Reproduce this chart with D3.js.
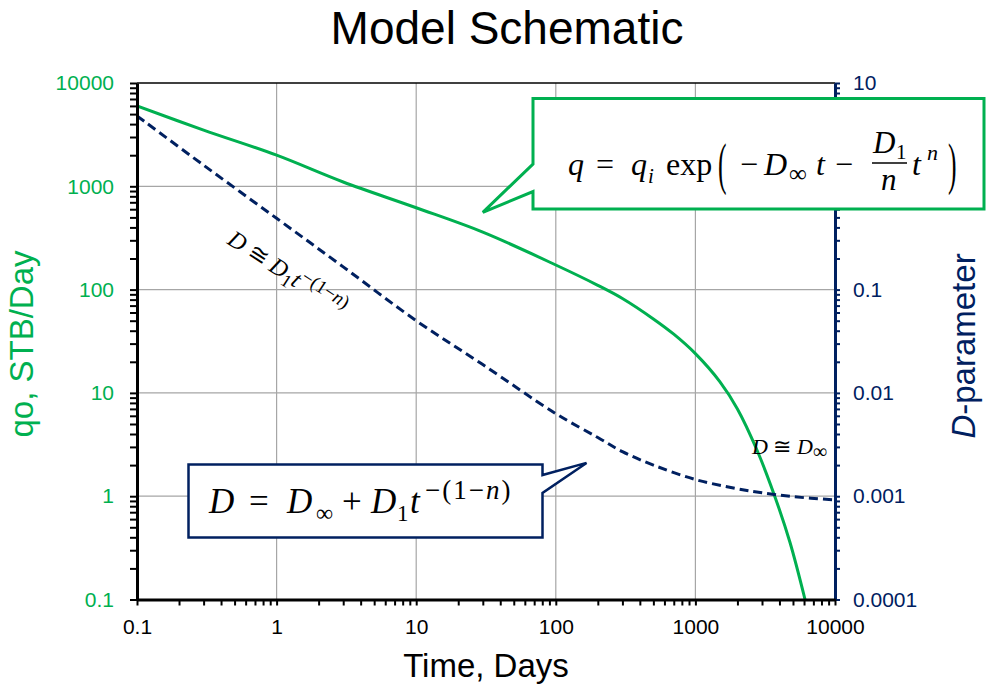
<!DOCTYPE html>
<html>
<head>
<meta charset="utf-8">
<script src="https://cdn.jsdelivr.net/npm/d3@7"></script>
<style>
  body { margin: 0; background: #fff; }
  svg { display: block; }
</style>
</head>
<body>
<script>
// values
var days  = [0.1, 0.3, 1, 3, 10, 30, 100, 200, 300, 500, 700, 1000, 1500, 2000, 2750, 3700, 4750, 6100];
var rate  = [6000, 3500, 2000, 1100, 620, 360, 173, 110, 82, 52, 37, 24, 12.8, 7.0, 2.83, 1.0, 0.36, 0.1];
var dDays = [0.1, 0.3, 1, 3, 10, 30, 100, 200, 300, 500, 1000, 2000, 3000, 5000, 10000];
var dPar  = [4.8, 1.6, 0.49, 0.166, 0.05, 0.0188, 0.0063, 0.0037, 0.0027, 0.002, 0.00145, 0.00118, 0.00108, 0.00099, 0.00092];
var xTickLabels  = ["0.1", "1", "10", "100", "1000", "10000"];
var yLeftLabels  = ["0.1", "1", "10", "100", "1000", "10000"];
var yRightLabels = ["0.0001", "0.001", "0.01", "0.1", "1", "10"];

var green = "#00B050", navy = "#002060";
var W = 993, H = 687;
var box = {left: 137, right: 835, top: 83, bottom: 599.5};

var svg = d3.select("body").append("svg")
    .attr("width", W).attr("height", H);

var x = d3.scaleLog().domain([0.1, 10000]).range([box.left, box.right]);
var yL = d3.scaleLog().domain([0.1, 10000]).range([box.bottom, box.top]);
var yR = d3.scaleLog().domain([0.0001, 10]).range([box.bottom, box.top]);

// all 1..9 x 10^k positions between lo and hi
function logTicks(lo, hi) {
    var out = [];
    for (var e = Math.round(Math.log10(lo)); e < Math.round(Math.log10(hi)); e++)
        for (var m = 1; m < 10; m++) out.push(+(m * Math.pow(10, e)).toPrecision(3));
    out.push(hi);
    return out;
}
function labelOf(list) {
    return function(d) {
        var i = list.indexOf(String(+d.toPrecision(3)));
        return i >= 0 ? list[i] : "";
    };
}

// grid
svg.append("g").selectAll("line").data(xTickLabels.map(Number).slice(1, -1))
    .enter().append("line")
    .attr("x1", function(d) { return x(d); }).attr("x2", function(d) { return x(d); })
    .attr("y1", box.top).attr("y2", box.bottom)
    .attr("stroke", "#A6A6A6").attr("stroke-width", 1.2);
svg.append("g").selectAll("line").data(yLeftLabels.map(Number).slice(1, -1))
    .enter().append("line")
    .attr("x1", box.left).attr("x2", box.right)
    .attr("y1", function(d) { return yL(d); }).attr("y2", function(d) { return yL(d); })
    .attr("stroke", "#A6A6A6").attr("stroke-width", 1.2);

// top border
svg.append("line")
    .attr("x1", box.left).attr("x2", box.right).attr("y1", box.top).attr("y2", box.top)
    .attr("stroke", "#000").attr("stroke-width", 1.5);

// curves
svg.append("clipPath").attr("id", "plot").append("rect")
    .attr("x", box.left).attr("y", box.top - 2)
    .attr("width", box.right - box.left).attr("height", box.bottom - box.top + 2);

var rateLine = d3.line()
    .x(function(d, i) { return x(days[i]); })
    .y(function(d) { return yL(d); })
    .curve(d3.curveCatmullRom.alpha(0.5));
svg.append("path").datum(rate)
    .attr("clip-path", "url(#plot)")
    .attr("d", rateLine)
    .attr("fill", "none").attr("stroke", green).attr("stroke-width", 3);

var dLine = d3.line()
    .x(function(d, i) { return x(dDays[i]); })
    .y(function(d) { return yR(d); })
    .curve(d3.curveCatmullRom.alpha(0.5));
svg.append("path").datum(dPar)
    .attr("d", dLine)
    .attr("fill", "none").attr("stroke", navy).attr("stroke-width", 3)
    .attr("stroke-dasharray", "9,5");

// axes
var font = "'Liberation Sans', Arial, sans-serif";

var gL = svg.append("g").attr("transform", "translate(" + box.left + ",0)")
    .call(d3.axisLeft(yL).tickValues(logTicks(0.1, 10000)).tickFormat(labelOf(yLeftLabels))
        .tickSize(7).tickSizeOuter(0).tickPadding(16));
gL.select(".domain").attr("stroke", "#000").attr("stroke-width", 3);
gL.selectAll(".tick line").attr("stroke", "#000").attr("stroke-width", 2);
gL.selectAll("text").attr("fill", green).style("font-family", font).style("font-size", "21px");

var gR = svg.append("g").attr("transform", "translate(" + box.right + ",0)")
    .call(d3.axisRight(yR).tickValues(logTicks(0.0001, 10)).tickFormat(labelOf(yRightLabels))
        .tickSize(5).tickSizeOuter(0).tickPadding(13));
gR.select(".domain").attr("stroke", navy).attr("stroke-width", 3);
gR.selectAll(".tick line").attr("stroke", navy).attr("stroke-width", 2);
gR.selectAll("text").attr("fill", navy).style("font-family", font).style("font-size", "21px");

var gB = svg.append("g").attr("transform", "translate(0," + box.bottom + ")")
    .call(d3.axisBottom(x).tickValues(logTicks(0.1, 10000)).tickFormat(labelOf(xTickLabels))
        .tickSize(6).tickSizeOuter(0).tickPadding(14));
gB.select(".domain").attr("stroke", "#000").attr("stroke-width", 3);
gB.selectAll(".tick line").attr("stroke", "#000").attr("stroke-width", 2);
gB.selectAll("text").attr("fill", "#000").style("font-family", font).style("font-size", "21px");

// titles
svg.append("text").attr("x", 507).attr("y", 44).attr("text-anchor", "middle")
    .style("font-family", font).style("font-size", "46px").text("Model Schematic");
svg.append("text").attr("x", (box.left + box.right) / 2).attr("y", 677).attr("text-anchor", "middle")
    .style("font-family", font).style("font-size", "33px").text("Time, Days");
svg.append("text").attr("transform", "translate(33,344) rotate(-90)").attr("text-anchor", "middle")
    .attr("fill", green).style("font-family", font).style("font-size", "33px").text("qo, STB/Day");
var rt = svg.append("text").attr("transform", "translate(975,346) rotate(-90)").attr("text-anchor", "middle")
    .attr("fill", navy).style("font-family", font).style("font-size", "33px");
rt.append("tspan").style("font-style", "italic").text("D");
rt.append("tspan").text("-parameter");

// callouts
var serif = "'Liberation Serif', 'DejaVu Serif', serif";
function piece(g, p) {
    g.append("text").attr("transform", "translate(" + p[1] + "," + p[2] + ")" + (p[5] ? " scale(0.8," + p[5] + ")" : ""))
        .style("font-family", serif).style("font-size", p[3] + "px")
        .style("font-style", p[4] ? "italic" : "normal")
        .text(p[0]);
}

// green callout: tip points at the rate curve near t = 30
var gtx = x(30), gty = yL(560);
svg.append("path")
    .attr("d", "M533,98.5 L984,98.5 L984,209 L533,209 L533,191.5 L" + gtx + "," + gty + " L533,164 Z")
    .attr("fill", "#fff").attr("stroke", green).attr("stroke-width", 3);
var gq = svg.append("g");
[["q", 568, 175, 32, 1], ["=", 596, 175, 32, 0], ["q", 631, 175, 32, 1], ["i", 648, 183, 21, 1],
 ["exp", 666, 175, 32, 0], ["(", 718, 183, 32, 0, 1.75], ["\u2212", 740, 175, 32, 0], ["D", 764, 175, 32, 1],
 ["\u221E", 789, 182, 25, 0], ["t", 816, 175, 32, 1], ["\u2212", 835, 175, 32, 0],
 ["D", 873, 153, 31, 1], ["1", 896, 159, 21, 0], ["n", 881, 190, 31, 1],
 ["t", 912, 175, 32, 1], ["n", 927, 160, 22, 1], [")", 948, 183, 32, 0, 1.75]]
    .forEach(function(p) { piece(gq, p); });
gq.append("line").attr("x1", 872).attr("x2", 907).attr("y1", 163).attr("y2", 163)
    .attr("stroke", "#000").attr("stroke-width", 1.6);

// navy callout: tip points near t = 166 on the D curve
var ntx = x(166), nty = yR(0.0021);
svg.append("path")
    .attr("d", "M188.5,464.5 L542.5,464.5 L542.5,475 L" + ntx + "," + nty + " L542.5,493 L542.5,537.5 L188.5,537.5 Z")
    .attr("fill", "#fff").attr("stroke", navy).attr("stroke-width", 2.5);
var gd = svg.append("g");
[["D", 209, 513, 35, 1], ["=", 249, 513, 35, 0], ["D", 287, 513, 35, 1], ["\u221E", 316, 521, 24, 0],
 ["+", 342, 513, 35, 0], ["D", 371, 513, 35, 1], ["1", 397, 521, 23, 0], ["t", 410, 513, 35, 1]]
    .forEach(function(p) { piece(gd, p); });
var sup = gd.append("text").attr("x", 425).attr("y", 499)
    .style("font-family", serif).style("font-size", "27px").style("letter-spacing", "2px");
sup.append("tspan").text("\u2212(1\u2212");
sup.append("tspan").style("font-style", "italic").text("n");
sup.append("tspan").text(")");

// slanted note along the D line
var sl = svg.append("text").attr("transform", "translate(226,243) rotate(33)")
    .style("font-family", serif).style("font-size", "24px");
sl.append("tspan").style("font-style", "italic").text("D");
sl.append("tspan").text(" \u2245 ");
sl.append("tspan").style("font-style", "italic").text("D");
sl.append("tspan").attr("dy", 5).style("font-size", "18px").text("1");
sl.append("tspan").attr("dy", -5).style("font-style", "italic").text("t");
sl.append("tspan").attr("dy", -9).style("font-size", "19px").text("\u2212(1\u2212");
sl.append("tspan").style("font-size", "19px").style("font-style", "italic").text("n");
sl.append("tspan").style("font-size", "19px").text(")");

var dn = svg.append("text").attr("x", 752).attr("y", 454)
    .style("font-family", serif).style("font-size", "22px");
dn.append("tspan").style("font-style", "italic").text("D");
dn.append("tspan").text(" \u2245 ");
dn.append("tspan").style("font-style", "italic").text("D");
dn.append("tspan").attr("dy", 4).style("font-size", "20px").text("\u221E");
</script>
</body>
</html>
